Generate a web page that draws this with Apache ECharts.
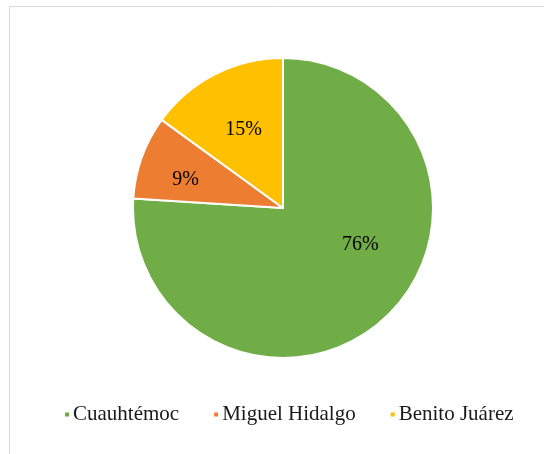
<!DOCTYPE html>
<html>
<head>
<meta charset="utf-8">
<script src="https://cdn.jsdelivr.net/npm/echarts@6/dist/echarts.min.js"></script>
<style>html,body{margin:0;padding:0;background:#fff;}#c{width:544px;height:454px;}</style>
</head>
<body>
<div id="c"></div>
<script>
const categories = ['Cuauhtémoc', 'Miguel Hidalgo', 'Benito Juárez'];
const values = [76, 9, 15];
const colors = ['#70AD47', '#ED7D31', '#FFC000'];
const labelNudge = [[24, -20], [-24, -2], [-4, -9]];

const chart = echarts.init(document.getElementById('c'), null, {renderer: 'canvas'});
chart.setOption({
  animation: false,
  backgroundColor: '#fff',
  graphic: [{
    type: 'rect',
    shape: {x: 9.5, y: 6.5, width: 560, height: 470},
    style: {fill: 'none', stroke: '#d9d9d9', lineWidth: 1},
    silent: true
  }],
  legend: {
    data: categories,
    bottom: 24,
    left: 58,
    icon: 'rect',
    itemWidth: 6,
    itemHeight: 6,
    itemGap: 33,
    textStyle: {fontFamily: 'Liberation Serif', fontSize: 21, color: '#1a1a1a', padding: [0, 0, 0, -2]}
  },
  series: [{
    type: 'pie',
    center: [283, 208],
    radius: [0, 150],
    startAngle: 90,
    clockwise: true,
    data: categories.map((n, i) => ({name: n, value: values[i], itemStyle: {color: colors[i]}})),
    itemStyle: {borderColor: '#fff', borderWidth: 2},
    label: {
      show: true,
      position: 'inside',
      formatter: p => p.value + '%',
      fontFamily: 'Liberation Serif',
      fontSize: 20,
      color: '#000'
    },
    labelLine: {show: false},
    labelLayout: p => ({dx: labelNudge[p.dataIndex][0], dy: labelNudge[p.dataIndex][1]})
  }]
});
</script>
</body>
</html>
